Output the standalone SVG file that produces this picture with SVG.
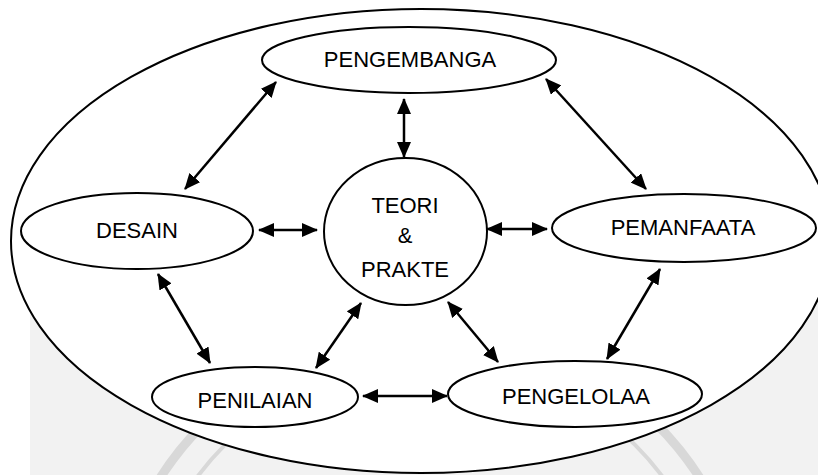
<svg xmlns="http://www.w3.org/2000/svg" width="818" height="475" viewBox="0 0 818 475">
<style>
.node{fill:#fff;stroke:#000;stroke-width:2}
.lbl{font-family:"Liberation Sans",Arial,sans-serif;font-size:22px;fill:#000;text-anchor:middle}
.con{stroke:#000;stroke-width:2.5;fill:none;marker-start:url(#ah);marker-end:url(#ah)}
</style>
<defs>
<marker id="ah" viewBox="0 0 16 14" refX="15" refY="7" markerWidth="16" markerHeight="14" markerUnits="userSpaceOnUse" orient="auto-start-reverse">
<path d="M0,0 L16,7 L0,14 Z" fill="#000"/>
</marker>
</defs>
<rect width="818" height="475" fill="#fff"/>
<rect x="30" y="270" width="788" height="205" fill="#f2f2f2"/>
<g fill="none" stroke="#d8d8d8">
<circle cx="430" cy="650" r="320" stroke-width="9"/>
<circle cx="430" cy="650" r="290" stroke-width="4"/>
</g>
<g id="outer">
<ellipse cx="421" cy="241" rx="410" ry="232" class="node"/>
</g>
<g id="connectors">
<line class="con" x1="276" y1="82" x2="185" y2="189"/>
<line class="con" x1="404" y1="99" x2="404" y2="157"/>
<line class="con" x1="546" y1="79" x2="646" y2="189"/>
<line class="con" x1="259" y1="230" x2="317" y2="230"/>
<line class="con" x1="487" y1="229" x2="547" y2="229"/>
<line class="con" x1="158" y1="274" x2="210" y2="363"/>
<line class="con" x1="361" y1="303" x2="316" y2="368"/>
<line class="con" x1="448" y1="302" x2="498" y2="362"/>
<line class="con" x1="660" y1="269" x2="607" y2="359"/>
<line class="con" x1="363" y1="396" x2="447" y2="396"/>
</g>
<g id="pengembanga">
<ellipse cx="409" cy="60" rx="147" ry="33" class="node"/>
<text x="410" y="67" class="lbl">PENGEMBANGA</text>
</g>
<g id="desain">
<ellipse cx="137" cy="231" rx="116" ry="38" class="node"/>
<text x="137" y="238" class="lbl">DESAIN</text>
</g>
<g id="teori">
<ellipse cx="405.5" cy="231.5" rx="81.5" ry="73.5" class="node"/>
<text x="405" y="213" class="lbl">TEORI</text>
<text x="405" y="243" class="lbl">&amp;</text>
<text x="405" y="277" class="lbl">PRAKTE</text>
</g>
<g id="pemanfaata">
<ellipse cx="684" cy="228" rx="132" ry="34" class="node"/>
<text x="683" y="235" class="lbl">PEMANFAATA</text>
</g>
<g id="penilaian">
<ellipse cx="255" cy="397" rx="103" ry="30" class="node"/>
<text x="255" y="408" class="lbl">PENILAIAN</text>
</g>
<g id="pengelolaa">
<ellipse cx="575" cy="394" rx="127" ry="33" class="node"/>
<text x="576" y="404" class="lbl">PENGELOLAA</text>
</g>
</svg>
